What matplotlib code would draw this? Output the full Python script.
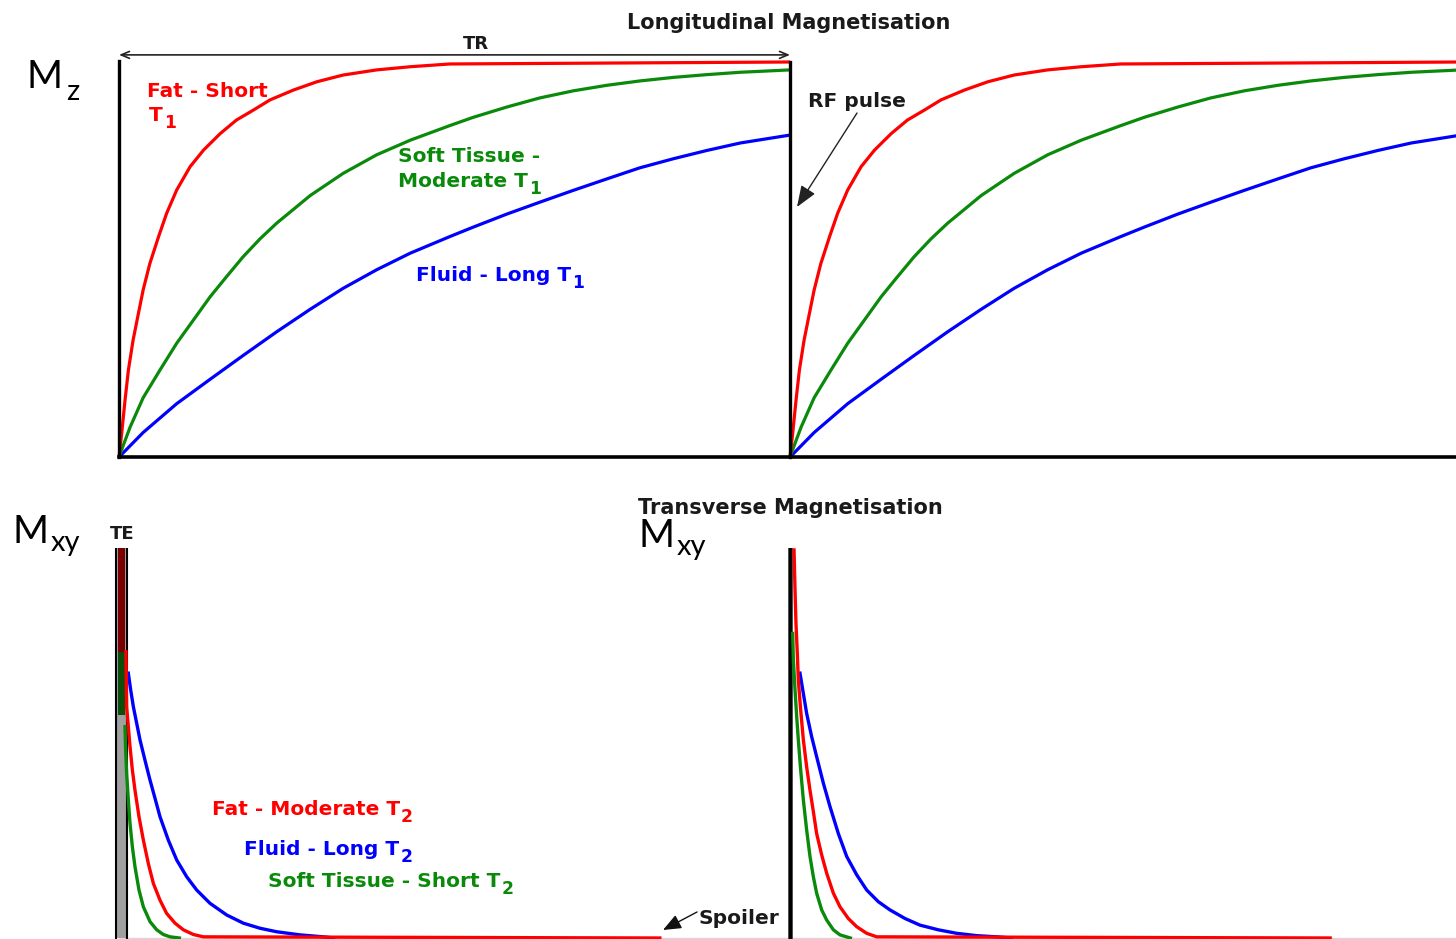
import matplotlib
matplotlib.use("Agg")
import matplotlib.pyplot as plt

W, H = 1456, 939
TR = 1.0

# Longitudinal (T1) recovery after an RF pulse: time as a fraction of TR, Mz / M0
fat_t1_time = [0, 0.004, 0.009, 0.014, 0.021, 0.029, 0.036, 0.046, 0.059, 0.071, 0.086, 0.106,
               0.126, 0.151, 0.175, 0.200, 0.225, 0.260, 0.295, 0.334, 0.384, 0.434, 0.493, 1.0]
fat_mz = [0, 0.06, 0.144, 0.22, 0.296, 0.364, 0.423, 0.49, 0.558, 0.617, 0.676, 0.735,
          0.777, 0.819, 0.853, 0.878, 0.904, 0.929, 0.95, 0.967, 0.98, 0.988, 0.995, 1.0]

soft_t1_time = [0, 0.0065, 0.0164, 0.036, 0.061, 0.086, 0.111, 0.136, 0.160, 0.185, 0.210, 0.235,
                0.285, 0.334, 0.384, 0.434, 0.493, 0.528, 0.578, 0.627, 0.677, 0.727, 0.776,
                0.826, 0.876, 0.926, 1.0]
soft_mz = [0, 0.03, 0.075, 0.15, 0.22, 0.288, 0.347, 0.406, 0.456, 0.507, 0.552, 0.592,
           0.662, 0.718, 0.765, 0.802, 0.839, 0.860, 0.886, 0.909, 0.927, 0.941, 0.952,
           0.961, 0.968, 0.974, 0.980]

fluid_t1_time = [0, 0.0065, 0.036, 0.086, 0.136, 0.185, 0.235, 0.285, 0.334, 0.384, 0.434, 0.493,
                 0.528, 0.578, 0.627, 0.677, 0.727, 0.776, 0.826, 0.876, 0.926, 1.0]
fluid_mz = [0, 0.011, 0.062, 0.135, 0.197, 0.257, 0.317, 0.374, 0.427, 0.474, 0.516, 0.558,
            0.582, 0.615, 0.645, 0.675, 0.704, 0.732, 0.755, 0.776, 0.795, 0.815]

# Transverse (T2) decay, first repetition (time from the first RF pulse), Mxy / M0
fat_t2_time_a = [0.0104, 0.0109, 0.0114, 0.0139, 0.0164, 0.0199, 0.0238, 0.0298, 0.0363, 0.0437,
                 0.0512, 0.0611, 0.0710, 0.0835, 0.0959, 0.1108, 0.1257, 0.806]
fat_mxy_a = [0.734, 0.662, 0.593, 0.542, 0.491, 0.431, 0.379, 0.311, 0.251, 0.191,
             0.14, 0.097, 0.063, 0.038, 0.021, 0.009, 0.003, 0.0]
fluid_t2_time_a = [0.0139, 0.0174, 0.0214, 0.0263, 0.0313, 0.0387, 0.0462, 0.0537, 0.0611, 0.0735,
                   0.0860, 0.1009, 0.1158, 0.1356, 0.1605, 0.1853, 0.2101, 0.2350, 0.2697,
                   0.3045, 0.32]
fluid_mxy_a = [0.679, 0.636, 0.593, 0.551, 0.508, 0.456, 0.405, 0.358, 0.311, 0.251,
               0.2, 0.157, 0.123, 0.089, 0.059, 0.038, 0.025, 0.016, 0.008, 0.003, 0.0]
soft_t2_time_a = [0.0089, 0.0099, 0.0114, 0.0139, 0.0164, 0.0199, 0.0238, 0.0298, 0.0363, 0.0462,
                  0.0562, 0.0660, 0.0760, 0.09]
soft_mxy_a = [0.542, 0.482, 0.422, 0.354, 0.294, 0.234, 0.183, 0.123, 0.080, 0.042,
              0.021, 0.009, 0.003, 0.0]

# Transverse decay, second repetition (time from the second RF pulse)
fat_t2_time_b = [0.006, 0.0075, 0.0089, 0.0109, 0.0124, 0.0159, 0.0199, 0.0248, 0.0298, 0.0348,
                 0.0397, 0.0472, 0.0547, 0.0646, 0.0745, 0.0869, 0.0994, 0.1143, 0.1292, 0.805]
fat_mxy_b = [0.995, 0.892, 0.807, 0.730, 0.662, 0.585, 0.508, 0.439, 0.379, 0.324,
             0.268, 0.213, 0.166, 0.115, 0.080, 0.050, 0.029, 0.012, 0.003, 0.0]
fluid_t2_time_b = [0.0149, 0.0199, 0.0248, 0.0323, 0.0397, 0.0497, 0.0596, 0.0720, 0.0845, 0.0994,
                   0.1143, 0.1317, 0.1490, 0.1714, 0.1937, 0.2210, 0.2484, 0.2782, 0.3080, 0.33]
fluid_mxy_b = [0.679, 0.627, 0.576, 0.516, 0.465, 0.397, 0.337, 0.268, 0.209, 0.162,
               0.123, 0.093, 0.072, 0.050, 0.033, 0.021, 0.012, 0.006, 0.003, 0.0]
soft_t2_time_b = [0.004, 0.005, 0.0075, 0.010, 0.0124, 0.0159, 0.0199, 0.0248, 0.0298, 0.0348,
                  0.0397, 0.0472, 0.0547, 0.0646, 0.0745, 0.09]
soft_mxy_b = [0.781, 0.713, 0.636, 0.567, 0.508, 0.431, 0.354, 0.277, 0.209, 0.157,
              0.115, 0.072, 0.046, 0.021, 0.008, 0.0]

# Echo-time window and the signal levels sampled inside it
te_window = (-0.0045, 0.0119)
te_fat_level = 0.733
te_soft_level = 0.572

RED = "#ff0000"
GREEN = "#0a8a0a"
BLUE = "#0000ff"
LABEL_FONT = "DejaVu Sans"

fig = plt.figure(figsize=(W / 100, H / 100), dpi=100)
fig.patch.set_facecolor("white")

PX_PER_TR = 671.0
T0_PX = 119.0
x_lo = (100 - T0_PX) / PX_PER_TR
x_hi = (W - T0_PX) / PX_PER_TR


def px_axes(x0, y0, x1, y1):
    return fig.add_axes([x0 / W, 1 - y1 / H, (x1 - x0) / W, (y1 - y0) / H])


# ---- longitudinal magnetisation ----
ax_top = px_axes(100, 62, W, 457)
ax_top.set_xlim(x_lo, x_hi)
ax_top.set_ylim(0, 1)
ax_top.axis("off")

for start in (0.0, TR):
    for tt, mm, col in ((fluid_t1_time, fluid_mz, BLUE),
                        (soft_t1_time, soft_mz, GREEN),
                        (fat_t1_time, fat_mz, RED)):
        ax_top.plot([start + v for v in tt], mm, color=col, lw=2.3,
                    solid_capstyle="butt", solid_joinstyle="round",
                    clip_on=False, zorder=3)

ax_top.plot([0, 0], [0, 1.003], color="black", lw=2.4, clip_on=False, zorder=4)
ax_top.plot([TR, TR], [0, 1.0], color="black", lw=2.4, clip_on=False, zorder=4)
ax_top.plot([0, x_hi], [0, 0], color="black", lw=2.6, clip_on=False, zorder=4)

ax_top.annotate("", xy=(0, 1.018), xytext=(TR, 1.018),
                arrowprops=dict(arrowstyle="<->,head_length=0.6,head_width=0.25",
                                color="#222222", lw=1.2, shrinkA=0, shrinkB=0),
                annotation_clip=False)

# ---- transverse magnetisation ----
ax_bot = px_axes(100, 548, W, 939)
ax_bot.set_xlim(x_lo, x_hi)
ax_bot.set_ylim(-1 / 390, 1)
ax_bot.axis("off")

ax_bot.plot([0, x_hi], [0, 0], color="#d8d8d8", lw=1.0, zorder=1)

# echo-time window
ax_bot.fill_betweenx([0, 1.0], te_window[0], te_window[1], color="#a0a0a0", lw=0, zorder=2)
ax_bot.fill_betweenx([te_fat_level, 1.0], te_window[0] + 0.003, te_window[1] - 0.003,
                     color="#7a0000", lw=0, zorder=2)
ax_bot.fill_betweenx([te_soft_level, te_fat_level], te_window[0] + 0.003, te_window[1] - 0.003,
                     color="#0b4d0b", lw=0, zorder=2)
for xe in te_window:
    ax_bot.plot([xe, xe], [-0.01, 1.0], color="black", lw=1.5, zorder=3)

ax_bot.plot([TR, TR], [-0.01, 1.0], color="#555555", lw=3.6, zorder=2)
ax_bot.plot([TR, TR], [-0.01, 1.0], color="black", lw=2.2, zorder=2)

for start, sets in ((0.0, ((fluid_t2_time_a, fluid_mxy_a, BLUE),
                           (fat_t2_time_a, fat_mxy_a, RED),
                           (soft_t2_time_a, soft_mxy_a, GREEN))),
                    (TR, ((fluid_t2_time_b, fluid_mxy_b, BLUE),
                          (fat_t2_time_b, fat_mxy_b, RED),
                          (soft_t2_time_b, soft_mxy_b, GREEN)))):
    for tt, mm, col in sets:
        ax_bot.plot([start + v for v in tt], mm, color=col, lw=2.4,
                    solid_joinstyle="round", zorder=4)

# ---- text overlay in pixel coordinates ----
ov = fig.add_axes([0, 0, 1, 1], facecolor="none")
ov.set_xlim(0, W)
ov.set_ylim(H, 0)
ov.axis("off")


def label(x, y, s, color="black", size=14.5, **kw):
    ov.text(x, y, s, color=color, fontsize=size, fontweight="bold",
            family=LABEL_FONT, va="baseline", ha=kw.pop("ha", "left"), **kw)


def sub_label(x, y, s, sub, color, size=14.5):
    t = ov.text(x, y, s, color=color, fontsize=size, fontweight="bold",
                family=LABEL_FONT, va="baseline")
    fig.canvas.draw()
    bb = t.get_window_extent()
    x_end = ov.transData.inverted().transform((bb.x1, bb.y0))[0]
    ov.text(x_end + 1, y + 7, sub, color=color, fontsize=size * 0.85,
            fontweight="bold", family=LABEL_FONT, va="baseline")


label(789, 29, "Longitudinal Magnetisation", size=15, ha="center", color="#1a1a1a")
label(476, 49, "TR", size=13, ha="center", color="#1a1a1a")
label(790, 514, "Transverse Magnetisation", size=15, ha="center", color="#1a1a1a")
label(122, 539, "TE", size=13, ha="center", color="#1a1a1a")

label(147, 97, "Fat - Short", RED)
sub_label(149, 121, "T", "1", RED)
label(398, 162, "Soft Tissue -", GREEN)
sub_label(398, 187, "Moderate T", "1", GREEN)
sub_label(416, 281, "Fluid - Long T", "1", BLUE)

sub_label(212, 815, "Fat - Moderate T", "2", RED)
sub_label(244, 855, "Fluid - Long T", "2", BLUE)
sub_label(268, 887, "Soft Tissue - Short T", "2", GREEN)

label(808, 107, "RF pulse", color="#1a1a1a")
ov.annotate("", xy=(797, 207), xytext=(857, 113),
            arrowprops=dict(arrowstyle="-|>,head_length=1.3,head_width=0.5",
                            color="#222222", lw=1.0, shrinkA=0, shrinkB=0))

label(698, 924, "Spoiler", color="#1a1a1a")
ov.annotate("", xy=(663, 930), xytext=(697, 912),
            arrowprops=dict(arrowstyle="-|>,head_length=1.1,head_width=0.45",
                            color="#111111", lw=1.0, shrinkA=0, shrinkB=0))

# axis symbols
BIG = "Lato"
ov.text(27, 88, "M", fontsize=28, family=BIG, va="baseline", color="black")
ov.text(66, 100, "z", fontsize=21, family=BIG, va="baseline", color="black")
ov.text(12, 543, "M", fontsize=28, family=BIG, va="baseline", color="black")
ov.text(51, 551, "xy", fontsize=21, family=BIG, va="baseline", color="black")
ov.text(638, 547, "M", fontsize=28, family=BIG, va="baseline", color="black")
ov.text(677, 555, "xy", fontsize=21, family=BIG, va="baseline", color="black")

fig.savefig("out.png", dpi=100, facecolor="white")
